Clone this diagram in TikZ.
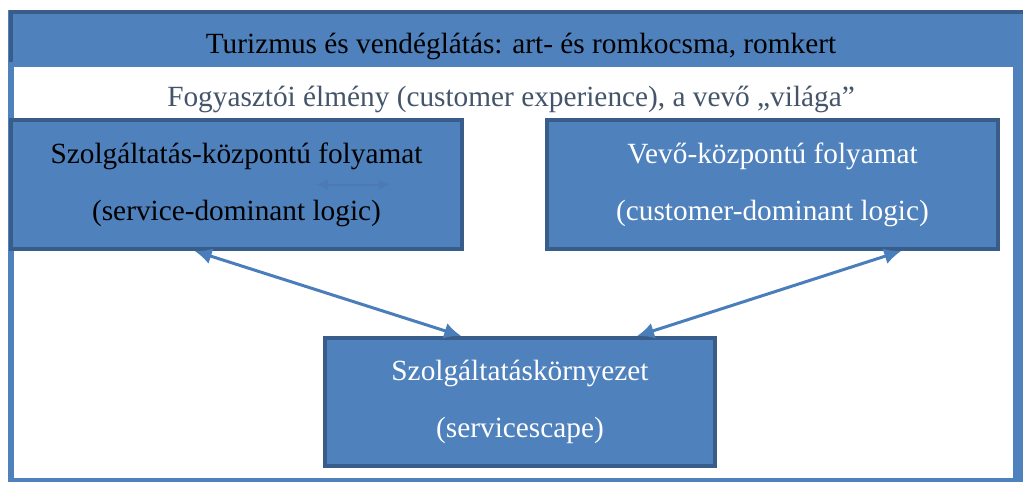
\documentclass[tikz,border=0pt]{standalone}
\usepackage{fontspec}
\setmainfont{Liberation Serif}
\usetikzlibrary{calc, positioning, arrows.meta}
\definecolor{boxblue}{HTML}{4F81BD}
\definecolor{edgeblue}{HTML}{385D8A}
\definecolor{linkblue}{HTML}{4A7EBB}
\definecolor{worldgray}{HTML}{44546A}

\begin{document}
\begin{tikzpicture}[x=1pt, y=-1pt, >={Latex[length=17pt,width=16pt]},
    every node/.style={font=\fontsize{29.3}{57}\selectfont},
    logicbox/.style={draw=edgeblue, line width=4pt, fill=boxblue, minimum width=451pt,
      minimum height=129pt, align=center, inner sep=0pt},
    link/.style={linkblue, line width=3pt, <->}]
  \useasboundingbox (0,0) rectangle (1023,482);
  % outer frame
  \fill [boxblue] (8,10) rectangle (1023,482);
  \fill [white] (14,67) rectangle (1013,478);
  \draw [edgeblue, line width=4pt] (11,62) -- (11,12) -- (1023,12);
  \node (title) at (521,53) [anchor=base] {Turizmus és vendéglátás: art- és romkocsma, romkert};
  \node (world) at (511,106) [anchor=base, text=worldgray] {Fogyasztói élmény (customer experience), a vevő „világa”};
  % the three boxes
  \node (sdl) at (236.5,184.5) [logicbox] {Szolgáltatás-központú folyamat\\(service-dominant logic)};
  \node (cdl) at (772.5,184.5) [logicbox, text=white] {Vevő-központú folyamat\\(customer-dominant logic)};
  \node (scape) at (520,402) [logicbox, minimum width=390pt, minimum height=128pt, text=white] {Szolgáltatáskörnyezet\\(servicescape)};
  % faint arrow inside the left box
  \coordinate (ghost a) at ($(sdl.center)+(80,0)$);
  \coordinate (ghost b) at ($(sdl.center)+(153,0)$);
  \draw [<->, >={Latex[length=11pt,width=11pt]}, line width=2pt, boxblue!82!edgeblue] (ghost a) -- (ghost b);
  % links
  \draw [link] ($(sdl.south west)!0.408!(sdl.south east)$) -- ($(scape.north west)!0.351!(scape.north east)$);
  \draw [link] ($(cdl.south west)!0.783!(cdl.south east)$) -- ($(scape.north west)!0.797!(scape.north east)$);
\end{tikzpicture}
\end{document}
